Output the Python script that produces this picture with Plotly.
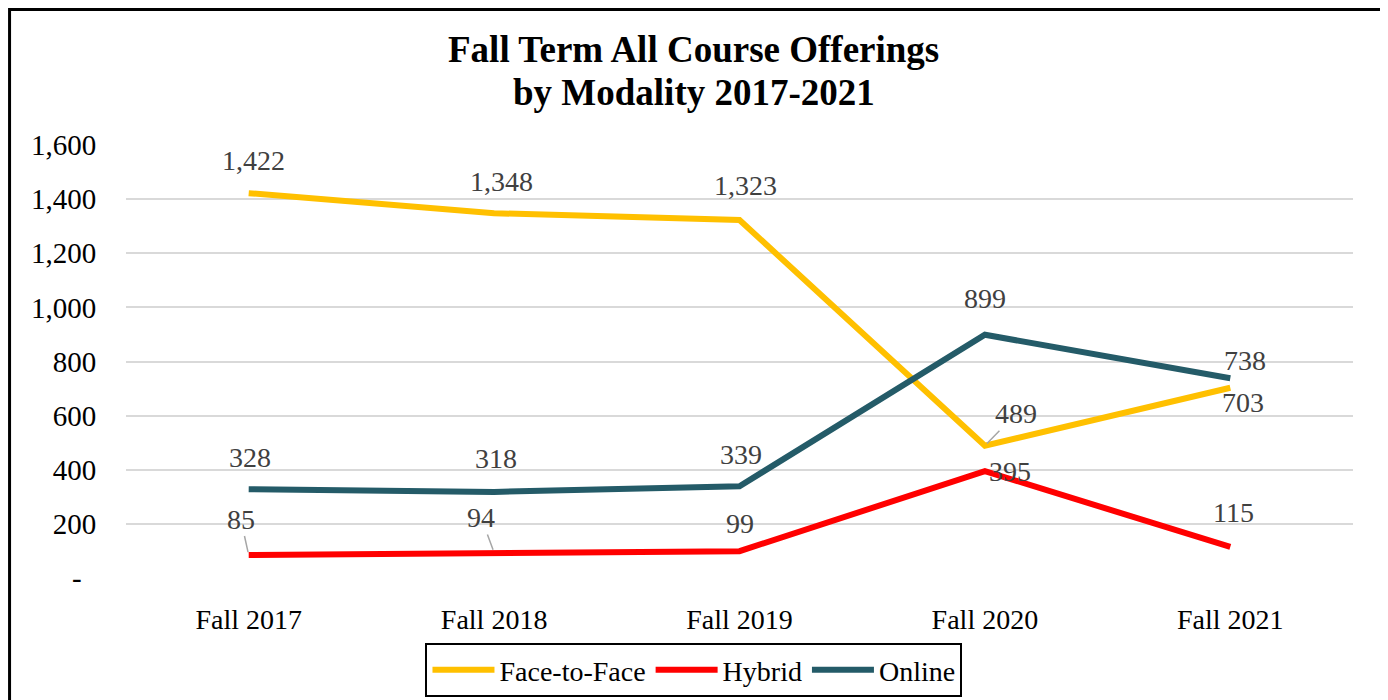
import plotly.graph_objects as go

terms = ["Fall 2017", "Fall 2018", "Fall 2019", "Fall 2020", "Fall 2021"]
face_to_face = [1422, 1348, 1323, 489, 703]
hybrid = [85, 94, 99, 395, 115]
online = [328, 318, 339, 899, 738]

y_ticks = [0, 200, 400, 600, 800, 1000, 1200, 1400, 1600]
y_tick_text = ["-\u00a0\u00a0", "200", "400", "600", "800", "1,000", "1,200", "1,400", "1,600"]

title_lines = ["Fall Term All Course Offerings", "by Modality 2017-2021"]

COLOR_F2F = "#FFC000"
COLOR_HYB = "#FF0000"
COLOR_ONL = "#245B68"
COLOR_GRID = "#D9D9D9"
COLOR_LABEL = "#404040"
FONT_FAMILY = "Liberation Serif"
SIZE_TEXT = 28

# label offsets in px (dx, dy) from each point, and whether a leader line is drawn
f2f_offsets = [(5, -33, False), (7, -32, False), (6, -34, False), (31, -32, True), (13, 15, False)]
hyb_offsets = [(-8, -36, True), (-13, -35, True), (0, -28, False), (25, 0, False), (3, -34, False)]
onl_offsets = [(1, -32, False), (2, -33, False), (1, -32, False), (0, -36, False), (15, -18, False)]

fig = go.Figure()

series = [
    ("Face-to-Face", face_to_face, COLOR_F2F, f2f_offsets),
    ("Hybrid", hybrid, COLOR_HYB, hyb_offsets),
    ("Online", online, COLOR_ONL, onl_offsets),
]

for name, values, color, offsets in series:
    fig.add_trace(go.Scatter(
        x = terms,
        y = values,
        name = name,
        mode = "lines",
        line = dict(color = color, width = 6),
    ))
    for term, v, (dx, dy, leader) in zip(terms, values, offsets):
        if leader:
            fig.add_annotation(
                x = term, y = v, text = f"{v:,}",
                showarrow = True, arrowhead = 0, arrowwidth = 1.5,
                arrowcolor = "#A6A6A6", ax = dx, ay = dy, standoff = 3,
                font = dict(family = FONT_FAMILY, size = SIZE_TEXT, color = COLOR_LABEL),
            )
        else:
            fig.add_annotation(
                x = term, y = v, text = f"{v:,}",
                showarrow = False, xshift = dx, yshift = -dy,
                font = dict(family = FONT_FAMILY, size = SIZE_TEXT, color = COLOR_LABEL),
            )

# two-line bold title
for line_text, ty in zip(title_lines, [1.2194, 1.1224]):
    fig.add_annotation(
        xref = "paper", yref = "paper",
        x = 0.4629, y = ty,
        xanchor = "center", yanchor = "middle",
        text = f"<b>{line_text}</b>",
        showarrow = False,
        font = dict(family = FONT_FAMILY, size = 37, color = "black"),
    )

# outer chart border
fig.add_shape(
    type = "rect", xref = "paper", yref = "paper",
    x0 = -0.0949, x1 = 1.0244, y0 = -0.3, y1 = 1.313,
    line = dict(color = "black", width = 3),
    fillcolor = "rgba(0,0,0,0)",
)

fig.update_layout(
    width = 1380,
    height = 692,
    paper_bgcolor = "white",
    plot_bgcolor = "white",
    margin = dict(l = 118, r = 35, t = 137, b = 122, autoexpand = False),
    font = dict(family = FONT_FAMILY, size = SIZE_TEXT, color = "black"),
    xaxis = dict(
        showgrid = False,
        showline = False,
        ticks = "outside",
        ticklen = 16,
        tickcolor = "rgba(0,0,0,0)",
        tickangle = 0,
        tickfont = dict(family = FONT_FAMILY, size = SIZE_TEXT, color = "black"),
        range = [-0.5, 4.5],
    ),
    yaxis = dict(
        range = [0, 1600],
        tickvals = y_ticks,
        ticktext = y_tick_text,
        showgrid = True,
        gridcolor = COLOR_GRID,
        gridwidth = 2,
        zeroline = False,
        showline = False,
        ticks = "outside",
        ticklen = 23,
        tickcolor = "rgba(0,0,0,0)",
        tickfont = dict(family = FONT_FAMILY, size = 29, color = "black"),
    ),
    showlegend = True,
    legend = dict(
        orientation = "h",
        x = 0.4629, xanchor = "center",
        y = -0.15, yanchor = "top",
        itemwidth = 62,
        bordercolor = "black",
        borderwidth = 2,
        font = dict(family = FONT_FAMILY, size = SIZE_TEXT, color = "black"),
    ),
)

fig.write_html("out.html")
